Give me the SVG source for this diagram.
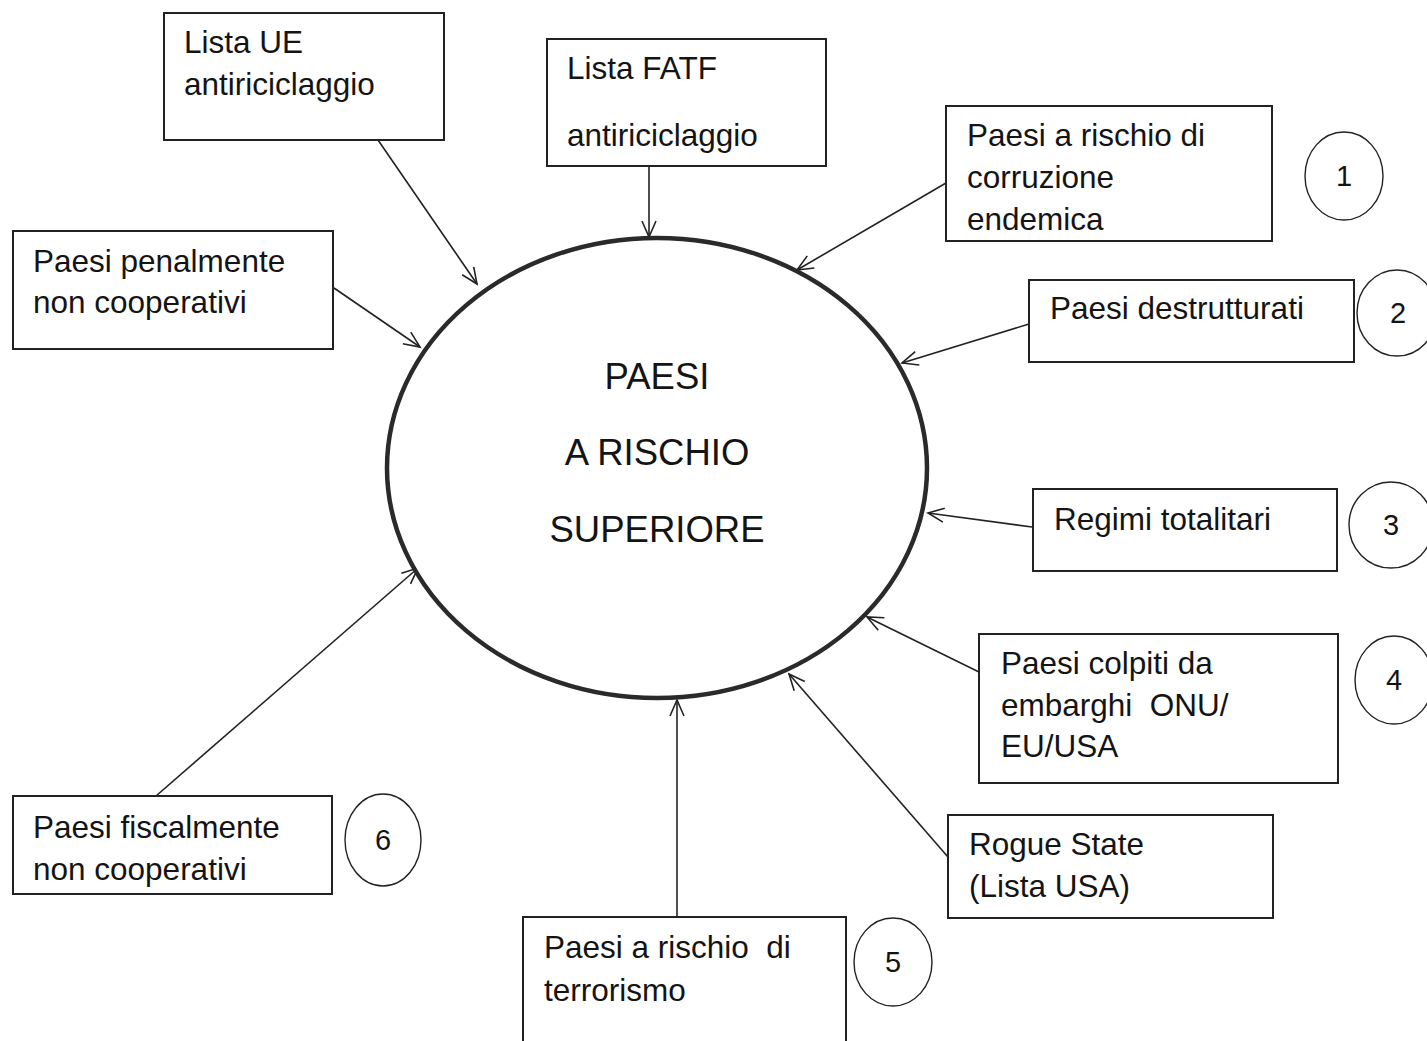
<svg xmlns="http://www.w3.org/2000/svg" width="1427" height="1041" viewBox="0 0 1427 1041">
  <style>
    .box { fill: #ffffff; stroke: #222222; stroke-width: 2; }
    .lbl { font-family: "Liberation Sans", Arial, sans-serif; font-size: 31.5px; fill: #141414; }
    .core { fill: #ffffff; stroke: #2a2a2a; stroke-width: 4.5; }
    .core-lbl { font-family: "Liberation Sans", Arial, sans-serif; font-size: 36.5px; fill: #141414; text-anchor: middle; }
    .badge { fill: #ffffff; stroke: #222222; stroke-width: 1.4; }
    .badge-lbl { font-family: "Liberation Sans", Arial, sans-serif; font-size: 29px; fill: #141414; text-anchor: middle; }
    .conn { fill: none; stroke: #222222; stroke-width: 1.6; marker-end: url(#arr); }
  </style>
  <defs>
    <marker id="arr" markerUnits="userSpaceOnUse" markerWidth="20" markerHeight="18" refX="17" refY="8" orient="auto" viewBox="0 0 20 18">
      <path d="M1,1 L17,8 L1,15" fill="none" stroke="#222222" stroke-width="1.6"/>
    </marker>
  </defs>

  <rect x="0" y="0" width="1427" height="1041" fill="#ffffff"/>

  <!-- arrows pointing into the central ellipse -->
  <g id="connectors">
    <line class="conn" x1="378" y1="140" x2="477" y2="284"/>
    <line class="conn" x1="649" y1="166" x2="649" y2="237"/>
    <line class="conn" x1="946" y1="183" x2="797" y2="270"/>
    <line class="conn" x1="1029" y1="324" x2="902" y2="363"/>
    <line class="conn" x1="1032" y1="527" x2="928" y2="513"/>
    <line class="conn" x1="979" y1="672" x2="867" y2="617"/>
    <line class="conn" x1="948" y1="857" x2="789" y2="674"/>
    <line class="conn" x1="677" y1="917" x2="677" y2="700"/>
    <line class="conn" x1="156" y1="796" x2="418" y2="568"/>
    <line class="conn" x1="334" y1="288" x2="420" y2="347"/>
  </g>

  <g id="core">
    <ellipse class="core" cx="657" cy="468" rx="270" ry="230"/>
    <text class="core-lbl" x="657" y="389">PAESI</text>
    <text class="core-lbl" x="657" y="465">A RISCHIO</text>
    <text class="core-lbl" x="657" y="542">SUPERIORE</text>
  </g>

  <g id="lista-ue">
    <rect class="box" x="164" y="13" width="280" height="127"/>
    <text class="lbl"><tspan x="184" y="53">Lista UE</tspan><tspan x="184" y="95">antiriciclaggio</tspan></text>
  </g>

  <g id="lista-fatf">
    <rect class="box" x="547" y="39" width="279" height="127"/>
    <text class="lbl"><tspan x="567" y="79">Lista FATF</tspan><tspan x="567" y="146">antiriciclaggio</tspan></text>
  </g>

  <g id="corruzione">
    <rect class="box" x="946" y="106" width="326" height="135"/>
    <text class="lbl"><tspan x="967" y="146">Paesi a rischio di</tspan><tspan x="967" y="188">corruzione</tspan><tspan x="967" y="230">endemica</tspan></text>
  </g>

  <g id="destrutturati">
    <rect class="box" x="1029" y="280" width="325" height="82"/>
    <text class="lbl" x="1050" y="319">Paesi destrutturati</text>
  </g>

  <g id="totalitari">
    <rect class="box" x="1033" y="489" width="304" height="82"/>
    <text class="lbl" x="1054" y="530">Regimi totalitari</text>
  </g>

  <g id="embarghi">
    <rect class="box" x="979" y="634" width="359" height="149"/>
    <text class="lbl" xml:space="preserve"><tspan x="1001" y="674">Paesi colpiti da</tspan><tspan x="1001" y="716">embarghi  ONU/</tspan><tspan x="1001" y="757">EU/USA</tspan></text>
  </g>

  <g id="rogue-state">
    <rect class="box" x="948" y="815" width="325" height="103"/>
    <text class="lbl"><tspan x="969" y="855">Rogue State</tspan><tspan x="969" y="897">(Lista USA)</tspan></text>
  </g>

  <g id="terrorismo">
    <rect class="box" x="523" y="917" width="323" height="130"/>
    <text class="lbl" xml:space="preserve"><tspan x="544" y="958">Paesi a rischio  di</tspan><tspan x="544" y="1001">terrorismo</tspan></text>
  </g>

  <g id="fiscalmente">
    <rect class="box" x="13" y="796" width="319" height="98"/>
    <text class="lbl"><tspan x="33" y="838">Paesi fiscalmente</tspan><tspan x="33" y="880">non cooperativi</tspan></text>
  </g>

  <g id="penalmente">
    <rect class="box" x="13" y="231" width="320" height="118"/>
    <text class="lbl"><tspan x="33" y="272">Paesi penalmente</tspan><tspan x="33" y="313">non cooperativi</tspan></text>
  </g>

  <!-- numbered badges -->
  <g id="badge-1">
    <ellipse class="badge" cx="1344" cy="176" rx="39" ry="44"/>
    <text class="badge-lbl" x="1344" y="186">1</text>
  </g>
  <g id="badge-2">
    <ellipse class="badge" cx="1397" cy="313" rx="40" ry="43"/>
    <text class="badge-lbl" x="1398" y="323">2</text>
  </g>
  <g id="badge-3">
    <ellipse class="badge" cx="1391" cy="525" rx="42" ry="43"/>
    <text class="badge-lbl" x="1391" y="535">3</text>
  </g>
  <g id="badge-4">
    <ellipse class="badge" cx="1394" cy="680" rx="39" ry="44"/>
    <text class="badge-lbl" x="1394" y="690">4</text>
  </g>
  <g id="badge-5">
    <ellipse class="badge" cx="893" cy="962" rx="39" ry="44"/>
    <text class="badge-lbl" x="893" y="972">5</text>
  </g>
  <g id="badge-6">
    <ellipse class="badge" cx="383" cy="840" rx="38" ry="46"/>
    <text class="badge-lbl" x="383" y="850">6</text>
  </g>
</svg>
